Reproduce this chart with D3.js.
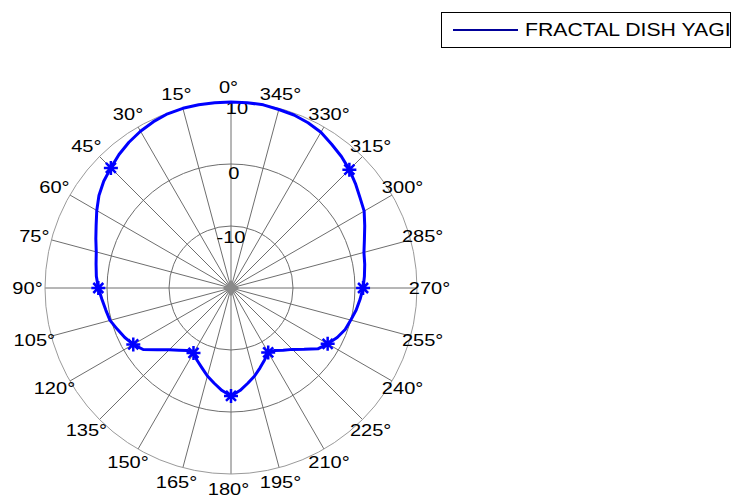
<meta charset="utf-8">
<style>
body { margin: 0; background: #fff; }
text { font-family: "Liberation Sans", Arial, sans-serif; fill: #000; }
</style>
<body>
<script src="https://cdnjs.cloudflare.com/ajax/libs/d3/7.8.5/d3.min.js"></script>
<script>
// pattern samples, degrees (counter-clockwise from top) and gain in dB
var angles = [0,5,10,15,20,25,30,35,40,45,50,55,60,65,70,75,80,85,90,95,100,105,110,115,
  120,125,130,135,140,145,150,155,160,165,170,175,180,185,190,195,200,205,210,215,220,225,
  230,235,240,245,250,255,260,265,270,275,280,285,290,295,300,305,310,315,320,325,330,335,340,345,350,355];
var gain = [10.0,10.0,10.0,10.0,9.9,9.6,9.2,8.7,8.1,7.4,6.8,6.0,5.0,4.0,3.2,2.5,2.1,1.8,1.4,0.9,
  0.5,0.2,-0.5,-1.1,-1.8,-2.7,-4.5,-5.9,-6.9,-7.7,-7.9,-7.1,-6.3,-5.3,-4.4,-3.4,-2.6,-3.4,-4.4,-5.3,
  -6.3,-7.2,-8.0,-7.7,-6.9,-6.0,-4.6,-2.9,-2.0,-1.1,-0.4,0.0,0.5,0.9,1.3,1.6,1.9,2.2,2.9,3.8,
  4.8,5.4,6.2,7.0,7.7,8.3,9.0,9.4,9.7,9.8,10.0,10.0];
var markerAngles = [45, 90, 120, 150, 180, 210, 240, 270, 315];
var ringTicks = [-10, 0, 10];
var spokeAngles = [0,15,30,45,60,75,90,105,120,135,150,165,180,195,210,225,240,255,270,285,300,315,330,345];
var seriesName = "FRACTAL DISH YAGI";

var width = 732, height = 500;
var cx = 231, cy = 288, R = 186;
var stretch = "scale(1.18,1)";   // the original text is a bit wide

var data = angles.map(function(a, i) { return {angle: a, gain: gain[i]}; });

var r = d3.scaleLinear().domain([-20, 10]).range([0, R]);
var rad = function(a) { return -a * Math.PI / 180; };  // ccw, 0 at top

var svg = d3.select("body").append("svg")
    .attr("width", width)
    .attr("height", height);

var g = svg.append("g")
    .attr("transform", "translate(" + cx + "," + cy + ")");

// spokes
g.selectAll(".spoke")
    .data(spokeAngles)
  .enter().append("line")
    .attr("x1", 0).attr("y1", 0)
    .attr("x2", function(d) { return -R * Math.sin(d * Math.PI / 180); })
    .attr("y2", function(d) { return -R * Math.cos(d * Math.PI / 180); })
    .attr("stroke", "#6e6e6e")
    .attr("stroke-width", 1);

// rings
g.selectAll(".ring")
    .data(ringTicks)
  .enter().append("circle")
    .attr("r", function(d) { return r(d); })
    .attr("fill", "none")
    .attr("stroke", function(d, i) { return i == ringTicks.length - 1 ? "#9a9a9a" : "#6e6e6e"; })
    .attr("stroke-width", 1);

// centre blob
g.append("path")
    .attr("d", "M0,-8L8,0L0,8L-8,0Z")
    .attr("fill", "#8a8a8a");

// ring labels (sit just inside each ring, drifting right going outwards)
g.selectAll(".rlabel")
    .data(ringTicks)
  .enter().append("text")
    .attr("transform", function(d) {
      var rr = r(d);
      return "translate(" + (0.048 * rr - 3) + "," + (-(1.036 * rr - 13.2)) + ") " + stretch;
    })
    .attr("text-anchor", "middle")
    .attr("dominant-baseline", "central")
    .style("font-size", "17px")
    .text(function(d) { return d; });

// angle labels
g.selectAll(".alabel")
    .data(spokeAngles)
  .enter().append("text")
    .attr("transform", function(d) {
      var x = -2.5 - 201 * Math.sin(d * Math.PI / 180),
          y = -201 * Math.cos(d * Math.PI / 180);
      return "translate(" + x + "," + y + ") " + stretch;
    })
    .attr("text-anchor", "middle")
    .attr("dominant-baseline", "central")
    .style("font-size", "17px")
    .text(function(d) { return d + "°"; });

// pattern line
var line = d3.lineRadial()
    .angle(function(d) { return rad(d.angle); })
    .radius(function(d) { return r(d.gain); })
    .curve(d3.curveLinearClosed);

g.append("path")
    .datum(data)
    .attr("d", line)
    .attr("fill", "none")
    .attr("stroke", "#0000ff")
    .attr("stroke-width", 3)
    .attr("stroke-linejoin", "round");

// asterisk markers
var markers = data.filter(function(d) { return markerAngles.indexOf(d.angle) >= 0; });
g.selectAll(".marker")
    .data(markers)
  .enter().append("path")
    .attr("transform", function(d) {
      var p = d3.pointRadial(rad(d.angle), r(d.gain));
      return "translate(" + p[0] + "," + p[1] + ")";
    })
    .attr("d", "M-7,0L7,0M0,-7L0,7M-5,-5L5,5M-5,5L5,-5")
    .attr("stroke", "#0000ff")
    .attr("stroke-width", 2.5);

// legend
var lg = svg.append("g");
lg.append("rect")
    .attr("x", 441.5).attr("y", 12.5)
    .attr("width", 289).attr("height", 35)
    .attr("fill", "#fff")
    .attr("stroke", "#000");
lg.append("line")
    .attr("x1", 453).attr("x2", 518)
    .attr("y1", 30).attr("y2", 30)
    .attr("stroke", "#00009a")
    .attr("stroke-width", 2);
lg.append("text")
    .attr("transform", "translate(525,30) " + stretch)
    .attr("dominant-baseline", "central")
    .style("font-size", "18px")
    .text(seriesName);
</script>
</body>
